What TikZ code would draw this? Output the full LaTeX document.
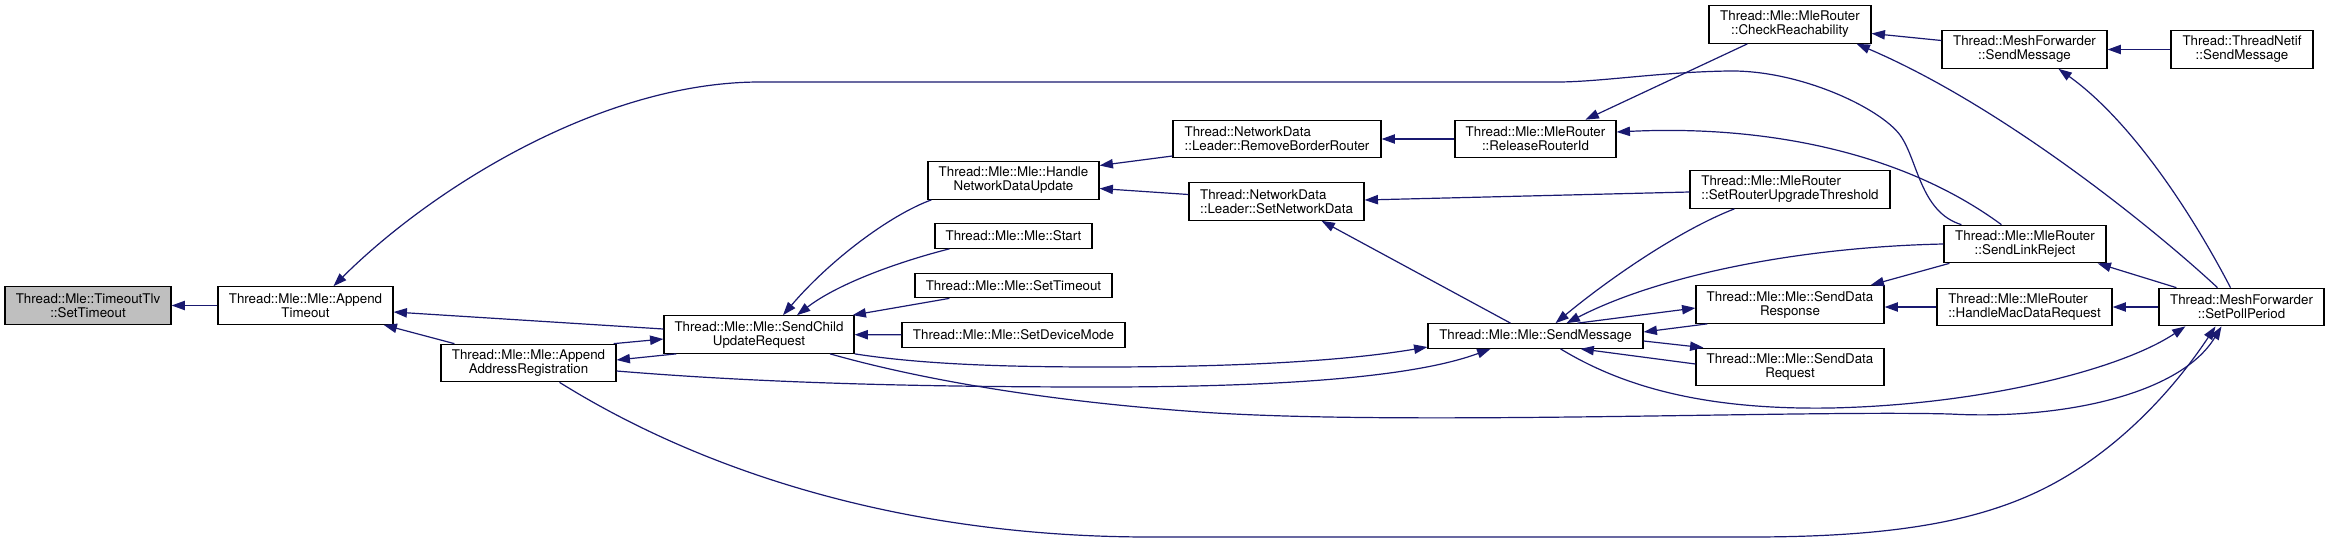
\documentclass[tikz,border=0pt]{standalone}
\usepackage{fontspec}
\setmainfont{TeX Gyre Heros}
\usetikzlibrary{arrows.meta,calc}
\definecolor{edgeblue}{RGB}{25,25,112}
\definecolor{rootgray}{RGB}{191,191,191}
\begin{document}
\begin{tikzpicture}[x=0.75pt,y=-0.75pt,
  box/.style={draw=black,line width=0.9pt,fill=white,inner sep=0pt,
    font=\fontsize{10}{10.5}\selectfont,minimum height=28.125pt},
  boxone/.style={box,minimum height=18.4pt},
  rootbox/.style={box,fill=rootgray},
  e/.style={draw=edgeblue,line width=0.9pt,-{Triangle[length=10pt,width=7pt]}}]
\path[fill=white] (0,0) rectangle (2330,543);
\useasboundingbox (0,0) rectangle (2330,543);
% nodes
\node[rootbox,minimum width=124.5pt,align=center] (n0) at (88,305.5) {Thread::Mle::TimeoutTlv\\::SetTimeout};
\node[box,minimum width=131.25pt,align=center] (n1) at (305.5,305.5) {Thread::Mle::Mle::Append\\Timeout};
\node[box,minimum width=131.25pt,align=center] (n2) at (528.5,363) {Thread::Mle::Mle::Append\\AddressRegistration};
\node[box,minimum width=142.5pt,align=center] (n3) at (759,334.5) {Thread::Mle::Mle::SendChild\\UpdateRequest};
\node[box,minimum width=128.25pt,align=center] (n4) at (1013.5,180.5) {Thread::Mle::Mle::Handle\\NetworkDataUpdate};
\node[boxone,minimum width=117.75pt] (n5) at (1013.5,236) {Thread::Mle::Mle::Start};
\node[boxone,minimum width=147.75pt] (n6) at (1013.5,285.5) {Thread::Mle::Mle::SetTimeout};
\node[boxone,minimum width=167.25pt] (n7) at (1013.5,335) {Thread::Mle::Mle::SetDeviceMode};
\node[box,minimum width=156pt,align=left] (n8) at (1277,139) {Thread::NetworkData\\::Leader::RemoveBorderRouter};
\node[box,minimum width=131.25pt,align=left] (n9) at (1276.5,201.5) {Thread::NetworkData\\::Leader::SetNetworkData};
\node[box,minimum width=120.75pt,align=center] (n10) at (1535.5,139) {Thread::Mle::MleRouter\\::ReleaseRouterId};
\node[box,minimum width=121.5pt,align=center] (n11) at (1790,24.5) {Thread::Mle::MleRouter\\::CheckReachability};
\node[box,minimum width=150pt,align=left] (n12) at (1790,189.5) {Thread::Mle::MleRouter\\::SetRouterUpgradeThreshold};
\node[boxone,minimum width=161.25pt] (n13) at (1535.5,336) {Thread::Mle::Mle::SendMessage};
\node[box,minimum width=121.5pt,align=center] (n14) at (2025,244) {Thread::Mle::MleRouter\\::SendLinkReject};
\node[box,minimum width=141pt,align=center] (n15) at (1790,304.5) {Thread::Mle::Mle::SendData\\Response};
\node[box,minimum width=141pt,align=center] (n16) at (1790,367) {Thread::Mle::Mle::SendData\\Request};
\node[box,minimum width=131.25pt,align=left] (n17) at (2024.5,307) {Thread::Mle::MleRouter\\::HandleMacDataRequest};
\node[box,minimum width=123.75pt,align=center] (n18) at (2024.5,49.5) {Thread::MeshForwarder\\::SendMessage};
\node[box,minimum width=106.5pt,align=center] (n19) at (2242,49.5) {Thread::ThreadNetif\\::SendMessage};
\node[box,minimum width=123.75pt,align=center] (n20) at (2241.5,307) {Thread::MeshForwarder\\::SetPollPeriod};
% edges
\draw[e] (n1.west) -- (n0.east);
\draw[e] ($(n3.west)+(0,-5.5)$) -- ($(n1.east)+(0,6.5)$);
\draw[e] ($(n2.north west)+(14,0)$) -- ($(n1.south east)+(-10,0)$);
\draw[e] ($(n14.north west)+(18,0)$) .. controls (1920,212) and (1918,160) .. (1900,135)
  .. controls (1880,108) and (1800,70) .. (1729,71)
  .. controls (1660,72) and (1600,82) .. (1557,82) -- (760,82)
  .. controls (600,82) and (430,190) .. ($(n1.north)+(28,0)$);
\draw[e] ($(n14.north west)+(58,0)$) .. controls (1900,150) and (1760,125) .. ($(n10.east)+(0,-7)$);
\draw[e] ($(n11.south west)+(39,0)$) -- ($(n10.north)+(50,0)$);
\draw[e] ($(n18.west)+(0,-9)$) -- ($(n11.east)+(0,9)$);
\draw[e] ($(n20.north)+(-24,0)$) .. controls (2150,225) and (2000,105) .. ($(n11.south east)+(-15,0)$);
\draw[e] (n19) -- (n18);
\draw[e] ($(n20.north)+(-11,0)$) .. controls (2190,210) and (2130,120) .. ($(n18.south)+(34,0)$);
\draw[e] ($(n20.north west)+(18,0)$) -- ($(n14.south east)+(-9,0)$);
\draw[e] (n20) -- (n17);
\draw[e] (n17.west) -- (n15.east |- n17.west);
\draw[e] ($(n14.south west)+(6,0)$) -- ($(n15.north east)+(-14,0)$);
\draw[e] (n14.west) .. controls (1800,247) and (1660,275) .. ($(n13.north)+(31,0)$);
\draw[e] ($(n12.south west)+(45,0)$) .. controls (1680,230) and (1610,278) .. ($(n13.north)+(20,0)$);
\draw[e] ($(n12.west)+(0,2.5)$) -- ($(n9.east)+(0,-1.5)$);
\draw[e] (n10) -- (n8);
\draw[e] ($(n13.north)+(-25,0)$) -- ($(n9.south)+(45,0)$);
\draw[e] ($(n8.west)+(0,17)$) -- ($(n4.east)+(0,-15)$);
\draw[e] ($(n9.west)+(0,-7)$) -- ($(n4.east)+(0,8)$);
\draw[e] ($(n4.south west)+(4,0)$) .. controls (890,215) and (830,260) .. ($(n3.north)+(24,0)$);
\draw[e] ($(n5.south west)+(15,0)$) .. controls (905,260) and (840,282) .. ($(n3.north)+(38,0)$);
\draw[e] ($(n6.south west)+(35,0)$) -- ($(n3.north east)+(-2,0)$);
\draw[e] (n7) -- (n3);
\draw[e] ($(n3.south west)+(13,0)$) -- ($(n2.east)+(0,-3)$);
\draw[e] ($(n2.north east)+(-3,0)$) -- ($(n3.west)+(0,4.5)$);
\draw[e] (n3.south east) .. controls (920,364) and (1000,367) .. (1100,367)
  .. controls (1250,367) and (1350,360) .. ($(n13.west)+(0,11)$);
\draw[e] ($(n2.east)+(0,8)$) .. controls (750,382) and (900,387) .. (1100,387)
  .. controls (1300,387) and (1420,375) .. ($(n13.south)+(-45,0)$);
\draw[e] ($(n3.south)+(71,0)$) .. controls (880,368) and (1000,398) .. (1200,412)
  .. controls (1400,426) and (1800,410) .. (1950,414)
  .. controls (2060,420) and (2180,395) .. ($(n20.south)+(-20,0)$);
\draw[e] ($(n13.south)+(25,0)$) .. controls (1620,385) and (1700,410) .. (1830,408)
  .. controls (1980,405) and (2120,370) .. ($(n20.south west)+(27,0)$);
\draw[e] ($(n2.south)+(31,0)$) .. controls (700,470) and (900,537) .. (1150,537) -- (1750,537)
  .. controls (1900,537) and (1990,520) .. (2060,480)
  .. controls (2130,440) and (2180,380) .. ($(n20.south)+(-26,0)$);
\draw[e] ($(n13.north)+(42,0)$) -- ($(n15.west)+(0,3.5)$);
\draw[e] ($(n15.south west)+(12,0)$) -- ($(n13.east)+(0,-4)$);
\draw[e] ($(n13.east)+(0,5)$) -- ($(n16.north west)+(8,0)$);
\draw[e] ($(n16.west)+(0,-3)$) -- ($(n13.south)+(45,0)$);
\end{tikzpicture}
\end{document}
